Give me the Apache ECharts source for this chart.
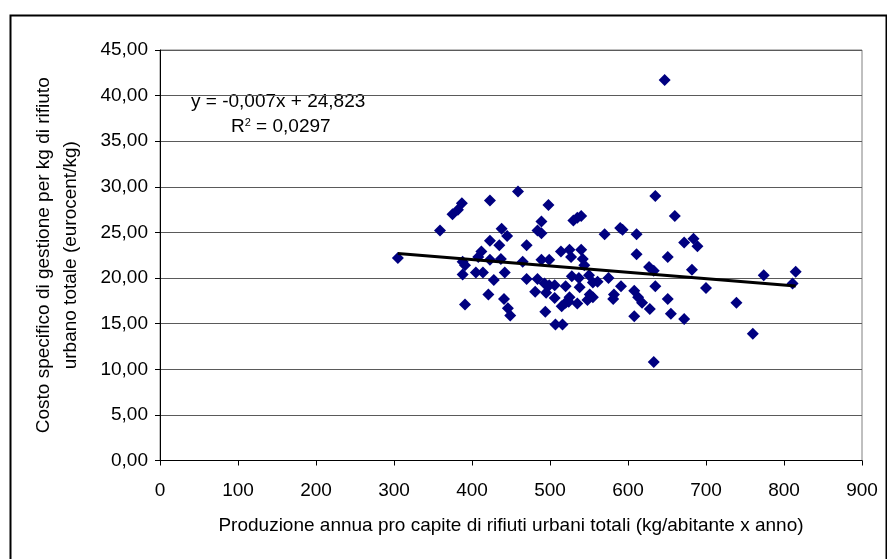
<!DOCTYPE html>
<html>
<head>
<meta charset="utf-8">
<script src="https://cdn.jsdelivr.net/npm/echarts@6/dist/echarts.min.js"></script>
<style>
  html, body { margin: 0; padding: 0; background: #fff; }
  #chart { width: 887px; height: 559px; }
</style>
</head>
<body>
<div id="chart"></div>
<script>
// produzione annua pro capite (kg/abitante x anno)
var produzione = [
  305, 359, 375, 382, 387, 388, 391, 388, 391, 405,
  414, 423, 423, 412, 408, 423, 428, 421, 438, 445,
  435, 437, 442, 441, 446, 449, 459, 470, 465, 470,
  484, 489, 489, 498, 484, 489, 499, 493, 499, 506,
  481, 495, 506, 494, 507, 516, 514, 525, 540, 527,
  542, 544, 530, 535, 540, 528, 537, 550, 520, 538,
  555, 561, 525, 551, 515, 520, 524, 535, 548, 555,
  570, 590, 593, 611, 635, 647, 660, 611, 651, 627,
  633, 575, 591, 635, 582, 581, 608, 613, 618, 628,
  608, 651, 655, 633, 672, 684, 689, 682, 700, 672,
  739, 760, 774, 815, 811
];
// costo specifico (eurocent/kg)
var costo = [
  22.2, 25.2, 27.0, 27.5, 28.2, 21.8, 21.4, 20.4, 17.1, 20.6,
  20.6, 28.5, 24.1, 22.9, 22.3, 22.0, 19.8, 18.2, 25.4, 24.6,
  23.6, 22.1, 20.6, 17.7, 16.7, 15.9, 29.5, 23.6, 21.8, 19.9,
  25.2, 24.9, 26.2, 28.0, 19.9, 22.0, 22.0, 19.4, 19.2, 19.2,
  18.5, 18.4, 17.8, 16.3, 14.9, 14.9, 22.9, 23.1, 23.1, 22.3,
  22.1, 21.4, 26.3, 26.6, 26.8, 20.2, 20.0, 20.3, 19.1, 19.0,
  19.5, 19.6, 17.9, 18.2, 16.9, 17.3, 17.4, 17.2, 17.6, 17.9,
  24.8, 25.5, 25.3, 24.8, 29.0, 41.7, 26.8, 22.6, 22.3, 21.2,
  20.8, 20.0, 19.1, 19.1, 18.2, 17.7, 18.6, 17.9, 17.3, 16.6,
  15.8, 17.7, 16.1, 10.8, 23.9, 24.3, 23.5, 20.9, 18.9, 15.5,
  17.3, 13.9, 20.3, 20.7, 19.4
];
// retta di regressione lineare
var pendenza = -0.007;
var intercetta = 24.823;
var equazione = 'y = -0,007x + 24,823';
var r2 = '0,0297';

var xTicks = [0, 100, 200, 300, 400, 500, 600, 700, 800, 900];
var yTicks = [0, 5, 10, 15, 20, 25, 30, 35, 40, 45];

var punti = produzione.map(function (x, i) { return [x, costo[i]]; });
var xMin = Math.min.apply(null, produzione);
var xMax = Math.max.apply(null, produzione);
var tendenza = [
  [xMin, pendenza * xMin + intercetta],
  [xMax, pendenza * xMax + intercetta]
];

var font = '"Liberation Sans", Arial, sans-serif';
var fs = 19;
var chart = echarts.init(document.getElementById('chart'));
chart.setOption({
  animation: false,
  backgroundColor: '#fff',
  grid: {
    left: 160, right: 25, top: 50, bottom: 98.5,
    show: true, borderColor: '#808080', borderWidth: 1
  },
  xAxis: {
    type: 'value',
    min: xTicks[0], max: xTicks[xTicks.length - 1], interval: 100,
    name: 'Produzione annua pro capite di rifiuti urbani totali (kg/abitante x anno)',
    nameLocation: 'middle', nameGap: 56,
    nameTextStyle: { color: '#000', fontSize: fs, fontFamily: font },
    axisLine: { lineStyle: { color: '#000', width: 1 } },
    axisTick: { show: true, length: 5, lineStyle: { color: '#000' } },
    axisLabel: { color: '#000', fontSize: fs, fontFamily: font, margin: 21 },
    splitLine: { show: false }
  },
  yAxis: {
    type: 'value',
    min: yTicks[0], max: yTicks[yTicks.length - 1], interval: 5,
    name: 'Costo specifico di gestione per kg di rifiuto\nurbano totale (eurocent/kg)',
    nameLocation: 'middle', nameGap: 76, nameRotate: 90,
    nameTextStyle: { color: '#000', fontSize: fs, fontFamily: font, lineHeight: 27 },
    axisLine: { show: true, lineStyle: { color: '#000', width: 1 } },
    axisTick: { show: true, length: 5, lineStyle: { color: '#000' } },
    axisLabel: {
      color: '#000', fontSize: fs, fontFamily: font, margin: 12,
      formatter: function (v) { return v.toFixed(2).replace('.', ','); }
    },
    splitLine: { show: true, lineStyle: { color: '#5a5a5a', width: 1 } }
  },
  series: [{
    type: 'scatter',
    data: punti,
    symbol: 'diamond',
    symbolSize: 12,
    itemStyle: { color: '#000080', opacity: 1 },
    z: 3
  }, {
    type: 'line',
    data: tendenza,
    symbol: 'none',
    lineStyle: { color: '#000', width: 3 },
    z: 4
  }],
  graphic: [{
    type: 'rect',
    left: 8, top: 13,
    shape: { width: 876, height: 600 },
    style: { fill: 'none', stroke: '#000', lineWidth: 2 },
    silent: true
  }, {
    type: 'text',
    left: 191, top: 92,
    style: { text: equazione, fill: '#000', font: fs + 'px ' + font }
  }, {
    type: 'text',
    left: 231, top: 117,
    style: {
      text: '{a|R}{s|2}{a| = ' + r2 + '}',
      rich: {
        a: { fontSize: fs, fontFamily: font, fill: '#000', color: '#000' },
        s: { fontSize: 11, fontFamily: font, color: '#000', padding: [0, 0, 9, 0] }
      }
    }
  }]
});
</script>
</body>
</html>
